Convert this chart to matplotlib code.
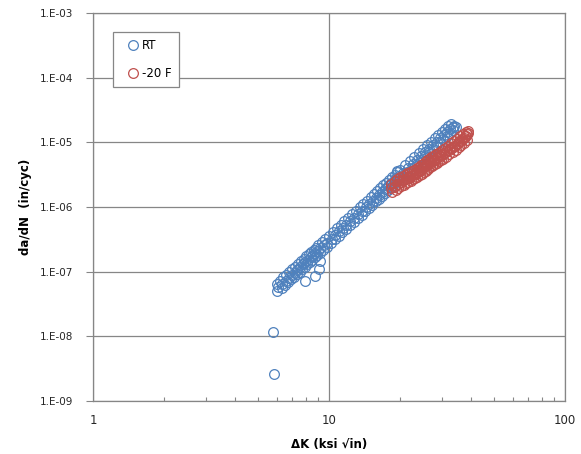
import matplotlib
matplotlib.use('Agg')
import matplotlib.pyplot as plt
from matplotlib.ticker import LogLocator, NullFormatter, NullLocator

# RT series (delta K in ksi sqrt(in), da/dN in in/cyc)
rt_dk = [5.8, 5.85,
         6.0, 6.05, 6.1, 6.2, 6.3, 6.35, 6.4, 6.5, 6.55, 6.6, 6.7, 6.75,
         6.8, 6.9, 6.95, 7.0, 7.1, 7.15, 7.2, 7.3, 7.35, 7.4, 7.5, 7.55,
         7.6, 7.7, 7.75, 7.8, 7.9, 7.95, 8.0, 8.1, 8.15, 8.2, 8.3, 8.35,
         8.4, 8.5, 8.55, 8.6, 8.7, 8.75, 8.8, 8.9, 8.95, 9.0, 9.15, 9.2,
         9.3, 9.45, 9.5, 9.6, 9.8, 9.85, 10.0, 10.2, 10.25, 10.4, 10.6, 10.65,
         10.8, 11.0, 11.05, 11.2, 11.4, 11.45, 11.6, 11.8, 11.85, 12.0, 12.25, 12.3,
         12.5, 12.75, 12.8, 13.0, 13.25, 13.3, 13.5, 13.75, 13.8, 14.0, 14.25, 14.3,
         14.5, 14.75, 14.8, 15.0, 15.25, 15.3, 15.5, 15.75, 15.8, 16.0, 16.25, 16.3,
         16.5, 16.75, 16.8, 17.0, 17.25, 17.3, 17.5, 17.75, 17.8, 18.0, 18.25, 18.3,
         18.5, 18.75, 18.8, 19.0, 19.25, 19.3, 19.5, 19.75, 19.8, 20.0, 20.5, 20.6,
         21.0, 21.5, 21.6, 22.0, 22.5, 22.6, 23.0, 23.5, 23.6, 24.0, 24.5, 24.6,
         25.0, 25.5, 25.6, 26.0, 26.5, 26.6, 27.0, 27.5, 27.6, 28.0, 28.5, 28.6,
         29.0, 29.5, 29.6, 30.0, 30.5, 30.6, 31.0, 31.5, 31.6, 32.0, 32.5, 32.6,
         33.0, 33.5, 33.6, 34.0, 34.5,
         7.9, 8.7, 9.1, 9.2, 19.4]
rt_dadn = [1.15e-8, 2.6e-9,
           6.4e-8, 5.1e-8, 5.7e-8, 7.3e-8, 5.6e-8, 6.4e-8, 8.2e-8, 6.2e-8, 7.1e-8, 9.0e-8, 6.9e-8, 7.9e-8,
           1.0e-7, 7.6e-8, 8.8e-8, 1.1e-7, 8.4e-8, 9.7e-8, 1.2e-7, 9.2e-8, 1.07e-7, 1.32e-7, 1.0e-7, 1.18e-7,
           1.45e-7, 1.1e-7, 1.3e-7, 1.58e-7, 1.2e-7, 1.4e-7, 1.72e-7, 1.31e-7, 1.53e-7, 1.87e-7, 1.42e-7, 1.66e-7,
           2.02e-7, 1.54e-7, 1.8e-7, 2.2e-7, 1.66e-7, 1.95e-7, 2.36e-7, 1.8e-7, 2.1e-7, 2.56e-7, 1.95e-7, 2.3e-7,
           2.85e-7, 2.17e-7, 2.55e-7, 3.17e-7, 2.4e-7, 2.8e-7, 3.6e-7, 2.8e-7, 3.25e-7, 4.15e-7, 3.2e-7, 3.7e-7,
           4.7e-7, 3.6e-7, 4.2e-7, 5.3e-7, 4.1e-7, 4.7e-7, 6.0e-7, 4.6e-7, 5.3e-7, 6.7e-7, 5.2e-7, 6.0e-7,
           7.7e-7, 5.9e-7, 6.8e-7, 8.8e-7, 6.7e-7, 7.7e-7, 9.9e-7, 7.6e-7, 8.8e-7, 1.12e-6, 8.6e-7, 1.0e-6,
           1.26e-6, 9.7e-7, 1.12e-6, 1.41e-6, 1.09e-6, 1.25e-6, 1.59e-6, 1.22e-6, 1.4e-6, 1.76e-6, 1.35e-6, 1.56e-6,
           1.95e-6, 1.5e-6, 1.73e-6, 2.16e-6, 1.66e-6, 1.92e-6, 2.38e-6, 1.84e-6, 2.12e-6, 2.62e-6, 2.02e-6, 2.33e-6,
           2.87e-6, 2.2e-6, 2.55e-6, 3.14e-6, 2.4e-6, 2.8e-6, 3.43e-6, 2.64e-6, 3.05e-6, 3.74e-6, 2.95e-6, 3.4e-6,
           4.4e-6, 3.5e-6, 3.95e-6, 5.1e-6, 4.0e-6, 4.6e-6, 5.95e-6, 4.7e-6, 5.35e-6, 6.9e-6, 5.4e-6, 6.2e-6,
           7.9e-6, 6.2e-6, 7.1e-6, 9.0e-6, 7.0e-6, 8.0e-6, 1.03e-5, 8.0e-6, 9.1e-6, 1.15e-5, 8.9e-6, 1.02e-5,
           1.3e-5, 1.0e-5, 1.15e-5, 1.46e-5, 1.12e-5, 1.28e-5, 1.62e-5, 1.25e-5, 1.43e-5, 1.8e-5, 1.4e-5, 1.6e-5,
           1.95e-5, 1.55e-5, 1.75e-5, 1.8e-5, 1.7e-5,
           7.2e-8, 8.5e-8, 1.1e-7, 1.45e-7, 3.6e-6]

# -20 F series
m20_dk = [18.3, 18.4, 18.5, 19.0, 19.1, 19.2, 19.5, 19.6, 19.7, 20.0, 20.1, 20.2,
          20.5, 20.6, 20.7, 21.0, 21.1, 21.2, 21.5, 21.6, 21.7, 22.0, 22.1, 22.2,
          22.5, 22.6, 22.7, 23.0, 23.1, 23.2, 23.5, 23.6, 23.7, 24.0, 24.1, 24.2,
          24.5, 24.6, 24.7, 25.0, 25.1, 25.2, 25.5, 25.6, 25.7, 26.0, 26.1, 26.2,
          26.5, 26.6, 26.7, 27.0, 27.1, 27.2, 27.5, 27.6, 27.7, 28.0, 28.1, 28.2,
          28.5, 28.6, 28.7, 29.0, 29.1, 29.2, 29.5, 29.6, 29.7, 30.0, 30.2, 30.4,
          31.0, 31.2, 31.4, 32.0, 32.2, 32.4, 33.0, 33.2, 33.4, 34.0, 34.2, 34.4,
          35.0, 35.2, 35.4, 36.0, 36.2, 36.4, 37.0, 37.2, 37.4, 38.0, 38.2, 38.4,
          38.8, 39.0,
          18.8, 19.8, 20.8, 21.8, 22.8, 23.8, 24.8, 25.8, 26.8, 27.8, 28.8, 29.8,
          30.7, 31.7, 32.7, 33.7, 34.7, 35.7, 36.7, 37.7, 38.5]
m20_dadn = [2.3e-6, 1.95e-6, 1.72e-6, 2.5e-6, 2.15e-6, 1.85e-6, 2.7e-6, 2.3e-6, 1.98e-6, 2.86e-6, 2.45e-6, 2.1e-6,
            3.0e-6, 2.58e-6, 2.22e-6, 3.16e-6, 2.7e-6, 2.32e-6, 3.3e-6, 2.82e-6, 2.43e-6, 3.45e-6, 2.95e-6, 2.54e-6,
            3.6e-6, 3.1e-6, 2.67e-6, 3.8e-6, 3.25e-6, 2.8e-6, 4.0e-6, 3.42e-6, 2.95e-6, 4.2e-6, 3.6e-6, 3.1e-6,
            4.45e-6, 3.8e-6, 3.27e-6, 4.7e-6, 4.0e-6, 3.44e-6, 5.0e-6, 4.25e-6, 3.65e-6, 5.3e-6, 4.5e-6, 3.87e-6,
            5.6e-6, 4.8e-6, 4.1e-6, 5.85e-6, 5.0e-6, 4.3e-6, 6.1e-6, 5.2e-6, 4.5e-6, 6.3e-6, 5.4e-6, 4.65e-6,
            6.6e-6, 5.65e-6, 4.85e-6, 6.9e-6, 5.9e-6, 5.07e-6, 7.2e-6, 6.15e-6, 5.3e-6, 7.5e-6, 6.4e-6, 5.5e-6,
            8.2e-6, 7.0e-6, 6.0e-6, 8.9e-6, 7.6e-6, 6.5e-6, 9.6e-6, 8.2e-6, 7.05e-6, 1.04e-5, 8.9e-6, 7.65e-6,
            1.13e-5, 9.7e-6, 8.35e-6, 1.24e-5, 1.06e-5, 9.1e-6, 1.35e-5, 1.15e-5, 9.9e-6, 1.45e-5, 1.27e-5, 1.1e-5,
            1.5e-5, 1.38e-5,
            2.05e-6, 2.5e-6, 2.75e-6, 3.05e-6, 3.35e-6, 3.7e-6, 4.1e-6, 4.6e-6, 5.1e-6, 5.35e-6, 5.85e-6, 6.5e-6,
            6.9e-6, 7.5e-6, 8.1e-6, 8.8e-6, 9.5e-6, 1.04e-5, 1.13e-5, 1.24e-5, 1.33e-5]

x_ticks = [1, 10, 100]
x_ticklabels = ['1', '10', '100']
y_ticks = [1e-9, 1e-8, 1e-7, 1e-6, 1e-5, 1e-4, 1e-3]
y_ticklabels = ['1.E-09', '1.E-08', '1.E-07', '1.E-06', '1.E-05', '1.E-04', '1.E-03']

blue = '#4F81BD'
red = '#C0504D'
gray = '#868686'

fig = plt.figure(figsize=(5.81, 4.54), dpi=100)
ax = fig.add_axes([93 / 581, 1 - 401 / 454, 472 / 581, 388 / 454])

ax.plot(rt_dk, rt_dadn, linestyle='none', marker='o', markersize=7,
        markerfacecolor='none', markeredgecolor=blue, markeredgewidth=0.9, label='RT')
ax.plot(m20_dk, m20_dadn, linestyle='none', marker='o', markersize=7,
        markerfacecolor='none', markeredgecolor=red, markeredgewidth=0.9, label='-20 F')

ax.set_xscale('log')
ax.set_yscale('log')
ax.set_xlim(1, 100)
ax.set_ylim(1e-9, 1e-3)

ax.set_xticks(x_ticks)
ax.set_xticklabels(x_ticklabels)
ax.xaxis.set_minor_locator(LogLocator(base=10, subs=range(2, 10)))
ax.xaxis.set_minor_formatter(NullFormatter())
ax.set_yticks(y_ticks)
ax.set_yticklabels(y_ticklabels)
ax.yaxis.set_minor_locator(NullLocator())

ax.tick_params(axis='x', which='major', length=0, pad=9, labelsize=8.5, labelcolor='#262626')
ax.tick_params(axis='x', which='minor', direction='in', length=3, color=gray, width=0.8)
ax.tick_params(axis='y', which='major', direction='out', length=5, color=gray, width=0.8,
               pad=9, labelsize=7.5, labelcolor='#262626')

ax.grid(True, which='major', color=gray, linewidth=0.9)
ax.set_axisbelow(True)
for sp in ax.spines.values():
    sp.set_color(gray)
    sp.set_linewidth(0.9)

ax.set_xlabel('ΔK (ksi √in)', fontsize=8.5, fontweight='bold', labelpad=8)
ax.set_ylabel('da/dN  (in/cyc)', fontsize=8.5, fontweight='bold', labelpad=6)

leg = ax.legend(loc='upper left', bbox_to_anchor=(0.042, 0.951), borderaxespad=0,
                fancybox=False, edgecolor=gray, framealpha=1, fontsize=8.5,
                handlelength=2.3, handletextpad=-0.4, labelspacing=1.25, borderpad=0.6)
leg.get_frame().set_linewidth(0.9)

fig.savefig('out.png', dpi=100)
